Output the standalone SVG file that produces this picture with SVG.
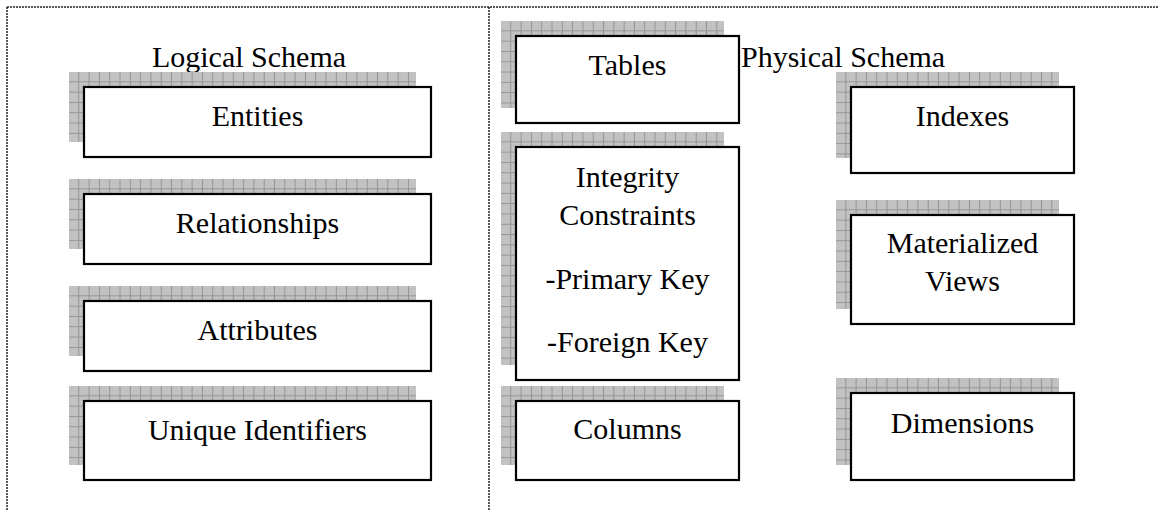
<svg xmlns="http://www.w3.org/2000/svg" width="1158" height="510" viewBox="0 0 1158 510">
  <defs>
    <pattern id="fine" width="2" height="2" patternUnits="userSpaceOnUse">
      <rect width="2" height="2" fill="#cccccc"/>
      <rect width="1" height="1" fill="#b8b8b8"/>
      <rect x="1" y="1" width="1" height="1" fill="#b8b8b8"/>
    </pattern>
    <pattern id="grid" width="10.3" height="10.3" patternUnits="userSpaceOnUse">
      <rect width="10.3" height="10.3" fill="url(#fine)"/>
      <path d="M9.8 0V10.3M0 9.8H10.3" stroke="#949494" stroke-width="1" fill="none"/>
    </pattern>
  </defs>
  <style>
    .shadow { fill: url(#grid); stroke: none; }
    .box { fill: #ffffff; stroke: #000000; stroke-width: 2.2; }
    .t { font-family: "Liberation Serif", "Times New Roman", "DejaVu Serif", serif; font-size: 30px; fill: #000000; text-anchor: middle; }
    .title { font-family: "Liberation Serif", "Times New Roman", "DejaVu Serif", serif; font-size: 30px; fill: #000000; }
    .border { stroke: #222222; stroke-width: 1.5; stroke-dasharray: 2 1; fill: none; }
  </style>
  <rect width="1158" height="510" fill="#ffffff"/>

  <g id="frame">
    <line class="border" x1="7" y1="7" x2="1158" y2="7"/>
    <line class="border" x1="7" y1="7" x2="7" y2="510"/>
    <line class="border" x1="489" y1="7" x2="489" y2="510"/>
  </g>

  <g id="titles">
    <text class="title" x="249" y="67" text-anchor="middle">Logical Schema</text>
    <text class="title" x="741" y="67">Physical Schema</text>
  </g>

  <g id="connectors"></g>

  <g id="entities" transform="translate(69,72)">
    <rect class="shadow" x="0" y="0" width="347" height="70"/>
    <rect class="box" x="15" y="15" width="347" height="70"/>
    <text class="t" x="188.5" y="54">Entities</text>
  </g>
  <g id="relationships" transform="translate(69,179)">
    <rect class="shadow" x="0" y="0" width="347" height="70"/>
    <rect class="box" x="15" y="15" width="347" height="70"/>
    <text class="t" x="188.5" y="54">Relationships</text>
  </g>
  <g id="attributes" transform="translate(69,286)">
    <rect class="shadow" x="0" y="0" width="347" height="70"/>
    <rect class="box" x="15" y="15" width="347" height="70"/>
    <text class="t" x="188.5" y="54">Attributes</text>
  </g>
  <g id="unique-identifiers" transform="translate(69,386)">
    <rect class="shadow" x="0" y="0" width="347" height="79"/>
    <rect class="box" x="15" y="15" width="347" height="79"/>
    <text class="t" x="188.5" y="54">Unique Identifiers</text>
  </g>

  <g id="tables" transform="translate(501,21)">
    <rect class="shadow" x="0" y="0" width="223" height="87"/>
    <rect class="box" x="15" y="15" width="223" height="87"/>
    <text class="t" x="126.5" y="54">Tables</text>
  </g>
  <g id="integrity-constraints" transform="translate(501,132)">
    <rect class="shadow" x="0" y="0" width="223" height="233"/>
    <rect class="box" x="15" y="15" width="223" height="233"/>
    <text class="t" x="126.5" y="55">Integrity</text>
    <text class="t" x="126.5" y="93">Constraints</text>
    <text class="t" x="126.5" y="157">-Primary Key</text>
    <text class="t" x="126.5" y="220">-Foreign Key</text>
  </g>
  <g id="columns" transform="translate(501,386)">
    <rect class="shadow" x="0" y="0" width="223" height="79"/>
    <rect class="box" x="15" y="15" width="223" height="79"/>
    <text class="t" x="126.5" y="53">Columns</text>
  </g>

  <g id="indexes" transform="translate(836,72)">
    <rect class="shadow" x="0" y="0" width="223" height="86"/>
    <rect class="box" x="15" y="15" width="223" height="86"/>
    <text class="t" x="126.5" y="54">Indexes</text>
  </g>
  <g id="materialized-views" transform="translate(836,200)">
    <rect class="shadow" x="0" y="0" width="223" height="109"/>
    <rect class="box" x="15" y="15" width="223" height="109"/>
    <text class="t" x="126.5" y="53">Materialized</text>
    <text class="t" x="126.5" y="91">Views</text>
  </g>
  <g id="dimensions" transform="translate(836,378)">
    <rect class="shadow" x="0" y="0" width="223" height="87"/>
    <rect class="box" x="15" y="15" width="223" height="87"/>
    <text class="t" x="126.5" y="55">Dimensions</text>
  </g>
</svg>
